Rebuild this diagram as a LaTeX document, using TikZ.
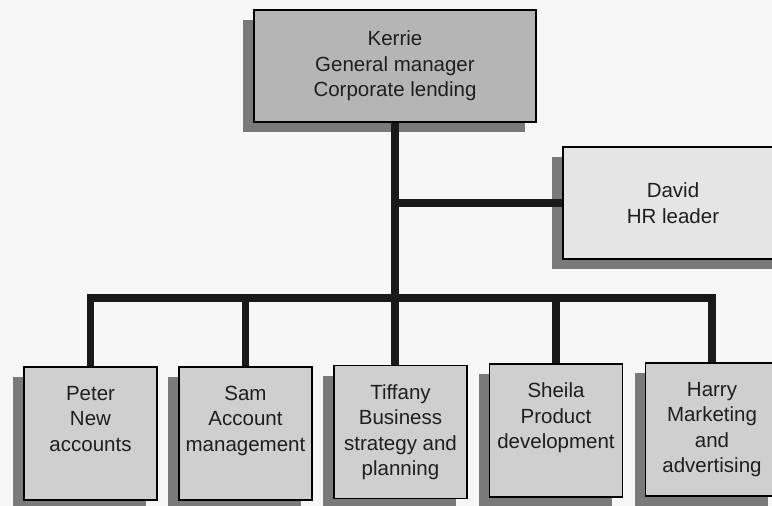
\documentclass[tikz,border=0pt]{standalone}
\usepackage{fontspec}
\setmainfont{Liberation Sans}
\usetikzlibrary{shadows}

\newcommand{\jobtop}[1]{\parbox[c][133pt][t]{131pt}{\centering\vspace*{19pt}#1}}

\tikzset{
	boss/.style={draw=black,line width=1.3pt,rectangle,inner sep=0pt,align=center,
		drop shadow={shadow xshift=-11pt,shadow yshift=-10pt,fill=black!52,opacity=1}},
	staff/.style={boss,fill=black!19,minimum width=133pt,minimum height=133pt},
	link/.style={draw=black!90,line width=7.5pt}
}

\begin{document}
\begin{tikzpicture}[x=1pt,y=-1pt,font=\fontsize{20.5}{25.5}\selectfont,text=black!88]

\def\BGCOLOR{black!3}
	\useasboundingbox (0,0) rectangle (772,506);
	\fill[\BGCOLOR] (0,0) rectangle (772,506);
	\clip (0,0) rectangle (772,506);

	% top of the chart
	\node[boss,fill=black!29,minimum width=282pt,minimum height=112pt] (kerrie) at (395,66)
		{Kerrie\\General manager\\Corporate lending};
	\node[boss,fill=black!10,minimum width=220pt,minimum height=112pt] (david) at (673,203)
		{David\\HR leader};

	% the five reports
	\node[staff] (peter) at (90.5,433.5) {\jobtop{Peter\\New\\accounts}};
	\node[staff] (sam) at (245.5,433.5) {\jobtop{Sam\\Account\\management}};
	\node[staff] (tiffany) at (400.5,432) {\jobtop{Tiffany\\Business\\strategy and\\planning}};
	\node[staff] (sheila) at (556,430.5) {\jobtop{Sheila\\Product\\development}};
	\node[staff] (harry) at (712,429.5) {\jobtop{Harry\\Marketing\\and\\advertising}};

	\coordinate (bus) at (395,298);

	\draw[link] (kerrie.south) -- (kerrie.south |- tiffany.north);
	\draw[link] (kerrie.south |- david.west) -- (david.west);
	\draw[link] (peter.north) |- (harry.north |- bus) -- (harry.north);
	\draw[link] (sam.north) -- (sam.north |- bus);
	\draw[link] (sheila.north) -- (sheila.north |- bus);

\end{tikzpicture}
\end{document}
